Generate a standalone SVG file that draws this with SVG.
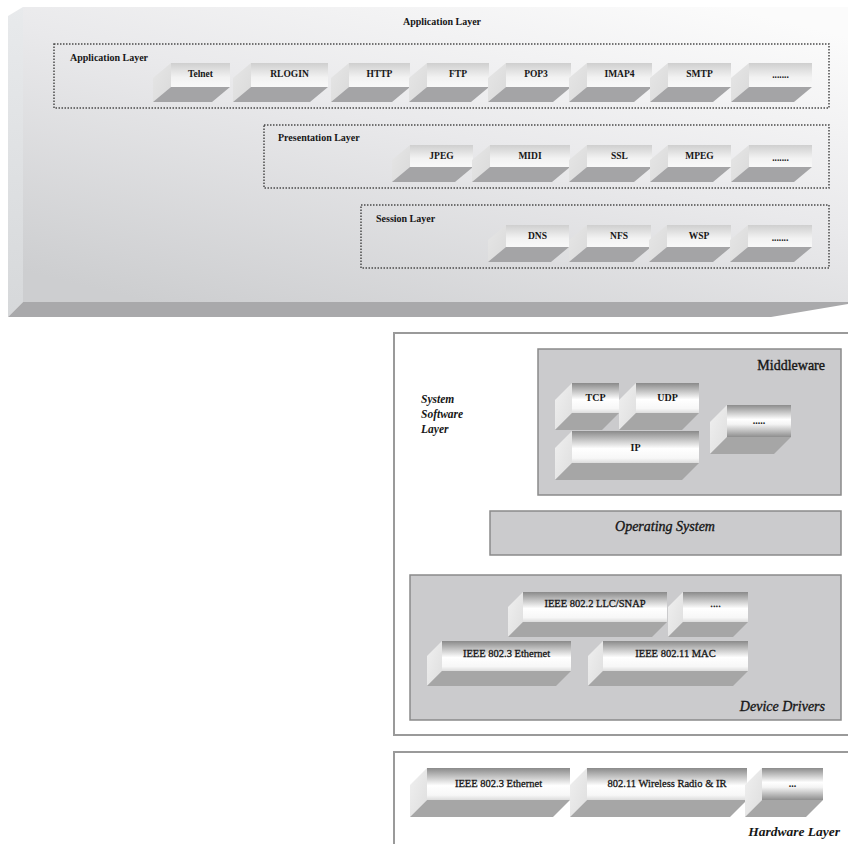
<svg xmlns="http://www.w3.org/2000/svg" width="848" height="844" viewBox="0 0 848 844">
  <defs>
    <!-- large application slab -->
    <linearGradient id="slabFront" x1="0.85" y1="0" x2="0.15" y2="1">
      <stop offset="0" stop-color="#fbfbfb"/>
      <stop offset="0.45" stop-color="#e9e9eb"/>
      <stop offset="1" stop-color="#cdced0"/>
    </linearGradient>
    <linearGradient id="slabSide" x1="0" y1="0" x2="0" y2="1">
      <stop offset="0" stop-color="#e8eaec"/>
      <stop offset="1" stop-color="#d6d8da"/>
    </linearGradient>
    <!-- soft protocol blocks (upper part) -->
    <linearGradient id="softFront" x1="0" y1="0" x2="0" y2="1">
      <stop offset="0" stop-color="#cfcfcf"/>
      <stop offset="0.6" stop-color="#f2f2f2"/>
      <stop offset="1" stop-color="#f8f8f8"/>
    </linearGradient>
    <linearGradient id="softSide" x1="0" y1="0" x2="1" y2="1">
      <stop offset="0" stop-color="#e6e6e6"/>
      <stop offset="1" stop-color="#dadada"/>
    </linearGradient>
    <!-- metallic blocks (lower part) -->
    <linearGradient id="metalFront" x1="0" y1="0" x2="0" y2="1">
      <stop offset="0" stop-color="#8a8a8a"/>
      <stop offset="0.55" stop-color="#ffffff"/>
      <stop offset="0.85" stop-color="#f7f7f7"/>
      <stop offset="1" stop-color="#dcdcdc"/>
    </linearGradient>
    <linearGradient id="metalRound" x1="0" y1="0" x2="0" y2="1">
      <stop offset="0" stop-color="#8c8c8c"/>
      <stop offset="0.45" stop-color="#ffffff"/>
      <stop offset="0.6" stop-color="#f4f4f4"/>
      <stop offset="1" stop-color="#8e8e8e"/>
    </linearGradient>
    <linearGradient id="metalSide" x1="0" y1="0" x2="1" y2="1">
      <stop offset="0" stop-color="#f0f0f0"/>
      <stop offset="1" stop-color="#dedede"/>
    </linearGradient>
  </defs>
  <style>
    .slab-front { fill: url(#slabFront); }
    .slab-side { fill: url(#slabSide); }
    .slab-bottom { fill: #a9a9ab; }
    .dotted { fill: none; stroke: #4a4a4a; stroke-width: 1.5; stroke-dasharray: 1.5 1.5; }
    .sf { fill: url(#softFront); }
    .ss { fill: url(#softSide); }
    .sb { fill: #a4a4a6; }
    .mf { fill: url(#metalFront); }
    .mr { fill: url(#metalRound); }
    .ms { fill: url(#metalSide); }
    .mb { fill: #a6a6a6; }
    .panel { fill: #cbcbcd; stroke: #8a8a8a; stroke-width: 1.5; }
    .frame { fill: #ffffff; stroke: #9a9a9a; stroke-width: 2; }
    .t { font-family: "Liberation Serif", "Times New Roman", serif; fill: #161616; }
    .heavy { stroke: #161616; stroke-width: 0.35; }
    .blk { font-size: 9.5px; font-weight: bold; text-anchor: middle; }
    .blk2 { font-size: 10.5px; text-anchor: middle; stroke: #161616; stroke-width: 0.3; }
    .blkb { font-size: 10px; font-weight: bold; text-anchor: middle; }
    .lbl { font-size: 10px; font-weight: bold; }
    .it { font-size: 14px; font-style: italic; }
  </style>

  <!-- ===== Application layer slab ===== -->
  <g id="application-slab">
    <rect class="slab-front" x="23" y="7" width="830" height="295"/>
    <polygon class="slab-side" points="23,7 8,16 8,317 23,302"/>
    <polygon class="slab-bottom" points="23,302 848,302 848,304 771,317 8,317"/>
    <text class="t lbl" x="442" y="25" text-anchor="middle" font-size="10.5">Application Layer</text>
  </g>

  <!-- Application sub-layer -->
  <g id="app-sublayer">
    <rect class="dotted" x="54" y="44" width="775" height="64"/>
    <text class="t lbl" x="70" y="61">Application Layer</text>
  </g>
  <g id="telnet">
    <polygon class="ss" points="171,63 153,78 153,102 171,87"/>
    <polygon class="sb" points="171,87 230,87 212,102 153,102"/>
    <rect class="sf" x="171" y="63" width="59" height="24"/>
    <text class="t blk" x="200.5" y="77">Telnet</text>
  </g>
  <g id="rlogin">
    <polygon class="ss" points="251,63 233,78 233,102 251,87"/>
    <polygon class="sb" points="251,87 328,87 310,102 233,102"/>
    <rect class="sf" x="251" y="63" width="77" height="24"/>
    <text class="t blk" x="289.5" y="77">RLOGIN</text>
  </g>
  <g id="http">
    <polygon class="ss" points="349,63 331,78 331,102 349,87"/>
    <polygon class="sb" points="349,87 410,87 392,102 331,102"/>
    <rect class="sf" x="349" y="63" width="61" height="24"/>
    <text class="t blk" x="379.5" y="77">HTTP</text>
  </g>
  <g id="ftp">
    <polygon class="ss" points="427,63 409,78 409,102 427,87"/>
    <polygon class="sb" points="427,87 489,87 471,102 409,102"/>
    <rect class="sf" x="427" y="63" width="62" height="24"/>
    <text class="t blk" x="458" y="77">FTP</text>
  </g>
  <g id="pop3">
    <polygon class="ss" points="506,63 488,78 488,102 506,87"/>
    <polygon class="sb" points="506,87 571,87 553,102 488,102"/>
    <rect class="sf" x="506" y="63" width="65" height="24"/>
    <text class="t blk" x="536" y="77">POP3</text>
  </g>
  <g id="imap4">
    <polygon class="ss" points="587,63 569,78 569,102 587,87"/>
    <polygon class="sb" points="587,87 652,87 634,102 569,102"/>
    <rect class="sf" x="587" y="63" width="65" height="24"/>
    <text class="t blk" x="619.5" y="77">IMAP4</text>
  </g>
  <g id="smtp">
    <polygon class="ss" points="668,63 650,78 650,102 668,87"/>
    <polygon class="sb" points="668,87 731,87 713,102 650,102"/>
    <rect class="sf" x="668" y="63" width="63" height="24"/>
    <text class="t blk" x="699.5" y="77">SMTP</text>
  </g>
  <g id="app-more">
    <polygon class="ss" points="749,63 731,78 731,102 749,87"/>
    <polygon class="sb" points="749,87 812,87 794,102 731,102"/>
    <rect class="sf" x="749" y="63" width="63" height="24"/>
    <text class="t blk" x="780.5" y="78" font-weight="normal">.......</text>
  </g>

  <!-- Presentation sub-layer -->
  <g id="presentation-sublayer">
    <rect class="dotted" x="264" y="125" width="565" height="63"/>
    <text class="t lbl" x="278" y="141">Presentation Layer</text>
  </g>
  <g id="jpeg">
    <polygon class="ss" points="410,145 392,160 392,182 410,167"/>
    <polygon class="sb" points="410,167 473,167 455,182 392,182"/>
    <rect class="sf" x="410" y="145" width="63" height="22"/>
    <text class="t blk" x="441.5" y="159">JPEG</text>
  </g>
  <g id="midi">
    <polygon class="ss" points="490,145 472,160 472,182 490,167"/>
    <polygon class="sb" points="490,167 570,167 552,182 472,182"/>
    <rect class="sf" x="490" y="145" width="80" height="22"/>
    <text class="t blk" x="530" y="159">MIDI</text>
  </g>
  <g id="ssl">
    <polygon class="ss" points="587,145 569,160 569,182 587,167"/>
    <polygon class="sb" points="587,167 652,167 634,182 569,182"/>
    <rect class="sf" x="587" y="145" width="65" height="22"/>
    <text class="t blk" x="619.5" y="159">SSL</text>
  </g>
  <g id="mpeg">
    <polygon class="ss" points="668,145 650,160 650,182 668,167"/>
    <polygon class="sb" points="668,167 731,167 713,182 650,182"/>
    <rect class="sf" x="668" y="145" width="63" height="22"/>
    <text class="t blk" x="699.5" y="159">MPEG</text>
  </g>
  <g id="presentation-more">
    <polygon class="ss" points="749,145 731,160 731,182 749,167"/>
    <polygon class="sb" points="749,167 812,167 794,182 731,182"/>
    <rect class="sf" x="749" y="145" width="63" height="22"/>
    <text class="t blk" x="780.5" y="161" font-weight="normal">.......</text>
  </g>

  <!-- Session sub-layer -->
  <g id="session-sublayer">
    <rect class="dotted" x="361" y="205" width="468" height="63"/>
    <text class="t lbl" x="376" y="222">Session Layer</text>
  </g>
  <g id="dns">
    <polygon class="ss" points="506,225 488,240 488,262 506,247"/>
    <polygon class="sb" points="506,247 569,247 551,262 488,262"/>
    <rect class="sf" x="506" y="225" width="63" height="22"/>
    <text class="t blk" x="537.5" y="239">DNS</text>
  </g>
  <g id="nfs">
    <polygon class="ss" points="587,225 569,240 569,262 587,247"/>
    <polygon class="sb" points="587,247 651,247 633,262 569,262"/>
    <rect class="sf" x="587" y="225" width="64" height="22"/>
    <text class="t blk" x="619" y="239">NFS</text>
  </g>
  <g id="wsp">
    <polygon class="ss" points="667,225 649,240 649,262 667,247"/>
    <polygon class="sb" points="667,247 731,247 713,262 649,262"/>
    <rect class="sf" x="667" y="225" width="64" height="22"/>
    <text class="t blk" x="699" y="239">WSP</text>
  </g>
  <g id="session-more">
    <polygon class="ss" points="748,225 730,240 730,262 748,247"/>
    <polygon class="sb" points="748,247 812,247 794,262 730,262"/>
    <rect class="sf" x="748" y="225" width="64" height="22"/>
    <text class="t blk" x="780" y="241" font-weight="normal">.......</text>
  </g>

  <!-- ===== System software layer ===== -->
  <g id="system-software-layer">
    <rect class="frame" x="394" y="333" width="470" height="402"/>
    <text class="t" x="421" y="403" font-size="11.5" font-style="italic" font-weight="bold">System</text>
    <text class="t" x="421" y="418" font-size="11.5" font-style="italic" font-weight="bold">Software</text>
    <text class="t" x="421" y="433" font-size="11.5" font-style="italic" font-weight="bold">Layer</text>
  </g>

  <g id="middleware">
    <rect class="panel" x="538" y="349" width="303" height="146"/>
    <text class="t heavy" x="825" y="370" font-size="14" text-anchor="end">Middleware</text>
  </g>
  <g id="tcp">
    <polygon class="ms" points="572,383 555,400 555,430 572,413"/>
    <polygon class="mb" points="572,413 619,413 602,430 555,430"/>
    <rect class="mf" x="572" y="383" width="47" height="30"/>
    <text class="t blkb" x="595.5" y="401">TCP</text>
  </g>
  <g id="udp">
    <polygon class="ms" points="636,383 619,400 619,430 636,413"/>
    <polygon class="mb" points="636,413 699,413 682,430 619,430"/>
    <rect class="mf" x="636" y="383" width="63" height="30"/>
    <text class="t blkb" x="667.5" y="401">UDP</text>
  </g>
  <g id="ip">
    <polygon class="ms" points="572,431 555,448 555,480 572,463"/>
    <polygon class="mb" points="572,463 699,463 682,480 555,480"/>
    <rect class="mf" x="572" y="431" width="127" height="32"/>
    <text class="t blkb" x="635.5" y="451">IP</text>
  </g>
  <g id="middleware-more">
    <polygon class="ms" points="727,405 710,422 710,454 727,437"/>
    <polygon class="mb" points="727,437 791,437 774,454 710,454"/>
    <rect class="mr" x="727" y="405" width="64" height="32"/>
    <text class="t blkb" x="759" y="424" font-size="8">.....</text>
  </g>

  <g id="operating-system">
    <rect class="panel" x="490" y="511" width="351" height="44"/>
    <text class="t it heavy" x="665" y="531" text-anchor="middle">Operating System</text>
  </g>

  <g id="device-drivers">
    <rect class="panel" x="410" y="575" width="431" height="145"/>
    <text class="t it heavy" x="825" y="711" text-anchor="end">Device Drivers</text>
  </g>
  <g id="llc-snap">
    <polygon class="ms" points="523,592 508,607 508,637 523,622"/>
    <polygon class="mb" points="523,622 667,622 652,637 508,637"/>
    <rect class="mf" x="523" y="592" width="144" height="30"/>
    <text class="t blk2" x="595" y="607">IEEE 802.2 LLC/SNAP</text>
  </g>
  <g id="drivers-more">
    <polygon class="ms" points="683,592 668,607 668,637 683,622"/>
    <polygon class="mb" points="683,622 748,622 733,637 668,637"/>
    <rect class="mf" x="683" y="592" width="65" height="30"/>
    <text class="t blk2" x="715.5" y="607" font-size="8">....</text>
  </g>
  <g id="ethernet-driver">
    <polygon class="ms" points="442,641 427,656 427,686 442,671"/>
    <polygon class="mb" points="442,671 571,671 556,686 427,686"/>
    <rect class="mf" x="442" y="641" width="129" height="30"/>
    <text class="t blk2" x="506.5" y="657">IEEE 802.3 Ethernet</text>
  </g>
  <g id="wifi-mac">
    <polygon class="ms" points="603,641 588,656 588,686 603,671"/>
    <polygon class="mb" points="603,671 748,671 733,686 588,686"/>
    <rect class="mf" x="603" y="641" width="145" height="30"/>
    <text class="t blk2" x="675.5" y="657">IEEE 802.11 MAC</text>
  </g>

  <!-- ===== Hardware layer ===== -->
  <g id="hardware-layer">
    <rect class="frame" x="394" y="752" width="470" height="110"/>
    <text class="t" x="840" y="836" font-size="13.5" font-style="italic" font-weight="bold" text-anchor="end">Hardware Layer</text>
  </g>
  <g id="ethernet-phy">
    <polygon class="ms" points="427,768 410,785 410,817 427,800"/>
    <polygon class="mb" points="427,800 570,800 553,817 410,817"/>
    <rect class="mf" x="427" y="768" width="143" height="32"/>
    <text class="t blk2" x="498.5" y="787">IEEE 802.3 Ethernet</text>
  </g>
  <g id="wireless-radio">
    <polygon class="ms" points="587,768 570,785 570,817 587,800"/>
    <polygon class="mb" points="587,800 747,800 730,817 570,817"/>
    <rect class="mf" x="587" y="768" width="160" height="32"/>
    <text class="t blk2" x="667" y="787">802.11 Wireless Radio &amp; IR</text>
  </g>
  <g id="hardware-more">
    <polygon class="ms" points="762,768 745,785 745,817 762,800"/>
    <polygon class="mb" points="762,800 823,800 806,817 745,817"/>
    <rect class="mr" x="762" y="768" width="61" height="32"/>
    <text class="t blkb" x="792.5" y="787">...</text>
  </g>

  <!-- no connectors in this layered stack -->
  <g id="connectors"/>
</svg>
